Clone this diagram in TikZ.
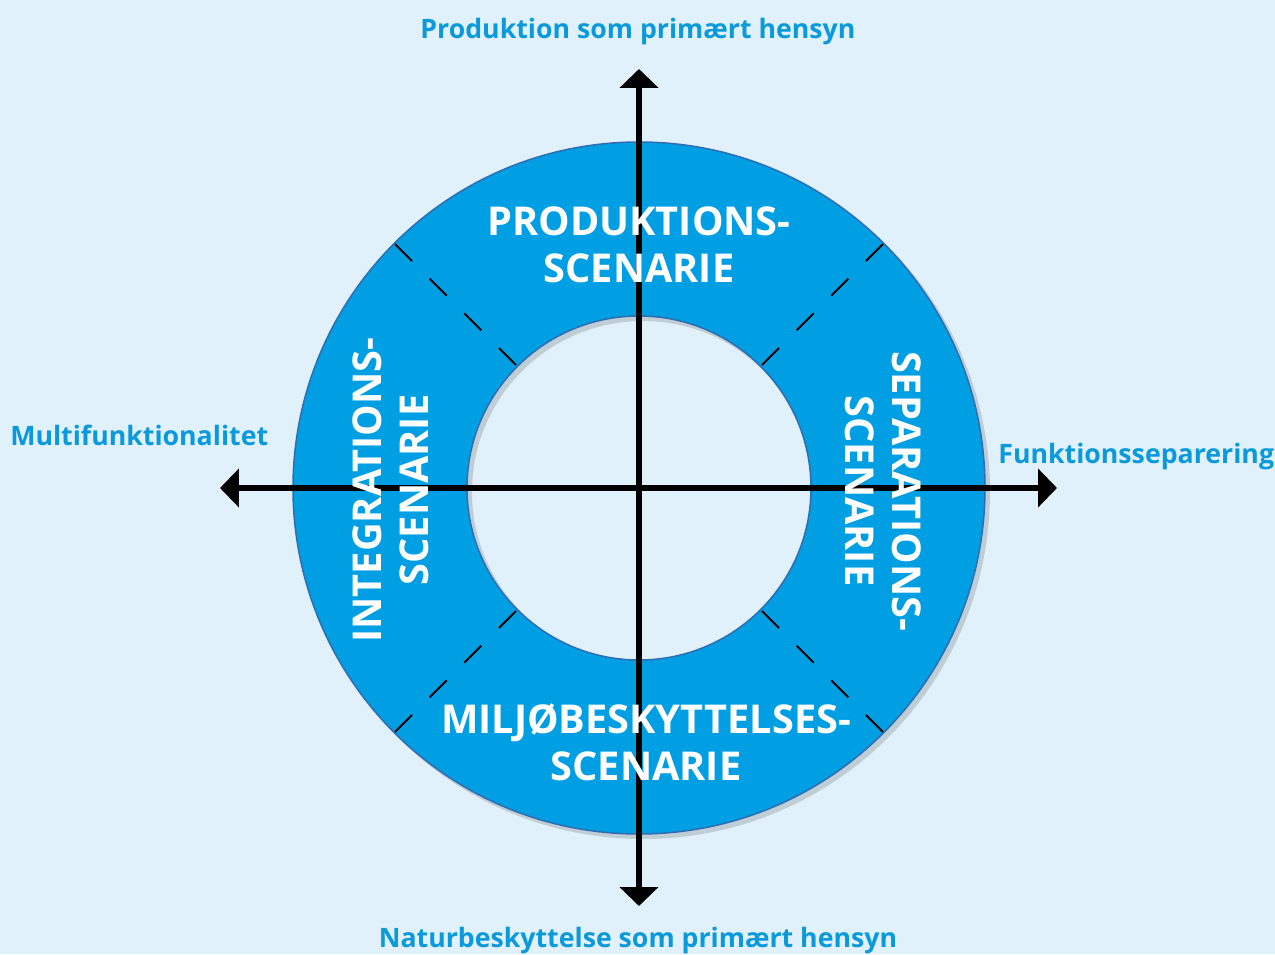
\documentclass[tikz,border=0pt]{standalone}
\usepackage{fontspec}
\setmainfont{Open Sans}
\usetikzlibrary{arrows.meta}
\definecolor{bgblue}{HTML}{E1F1FB}
\definecolor{ringblue}{HTML}{009FE3}
\definecolor{rimblue}{HTML}{2F6DB3}
\definecolor{labelblue}{HTML}{0A9ADB}
\tikzset{
  axis/.style={line width=0.12cm,-{Triangle[length=0.38cm,width=0.76cm]}},
  sector/.style={black,line width=0.04cm,dash pattern=on 0.48cm off 0.5cm},
  scen/.style={text=white,font=\bfseries\fontsize{22.6}{26.5}\selectfont,align=center,inner sep=0pt},
  pole/.style={text=labelblue,font=\bfseries\fontsize{15.2}{18}\selectfont,inner sep=0pt}
}
\begin{document}
\begin{tikzpicture}[x=0.02cm,y=0.02cm]
\fill[bgblue] (-639,-466) rectangle (636,488);
\useasboundingbox (-639,-466) rectangle (636,488);
% ring with its shadow
\fill[black,opacity=.15,even odd rule]
  (4,-4) circle[radius=347] (4,-4) circle[radius=171];
\filldraw[fill=ringblue,draw=rimblue,line width=0.03cm,even odd rule]
  (0,0) circle[radius=346] (0,0) circle[radius=172];
% sector borders
\foreach \a in {45,135,225,315}
  \draw[sector] (\a:345) -- (\a:172);
% axes
\coordinate (o) at (0,0);
\coordinate (n) at (0,419);
\coordinate (s) at (0,-418);
\coordinate (w) at (-419,0);
\coordinate (e) at (418,0);
\draw[axis] (o) -- (n);
\draw[axis] (o) -- (s);
\draw[axis] (o) -- (w);
\draw[axis] (o) -- (e);
% scenarios
\node[scen] (prod) at (0,243) {PRODUKTIONS-\\SCENARIE};
\node[scen,rotate=90] (integ) at (-248,-2) {INTEGRATIONS-\\SCENARIE};
\node[scen,rotate=-90] (separ) at (244,-3) {SEPARATIONS-\\SCENARIE};
\node[scen] (milj) at (7,-254) {MILJØBESKYTTELSES-\\SCENARIE};
% poles
\node[pole,anchor=base] (ptop) at (-1,449) {Produktion som primært hensyn};
\node[pole,anchor=base] (pbot) at (-1,-459) {Naturbeskyttelse som primært hensyn};
\node[pole,anchor=base west] (pleft) at (-629,43) {Multifunktionalitet};
\node[pole,anchor=base west] (pright) at (359,25) {Funktionsseparering};
\end{tikzpicture}
\end{document}
